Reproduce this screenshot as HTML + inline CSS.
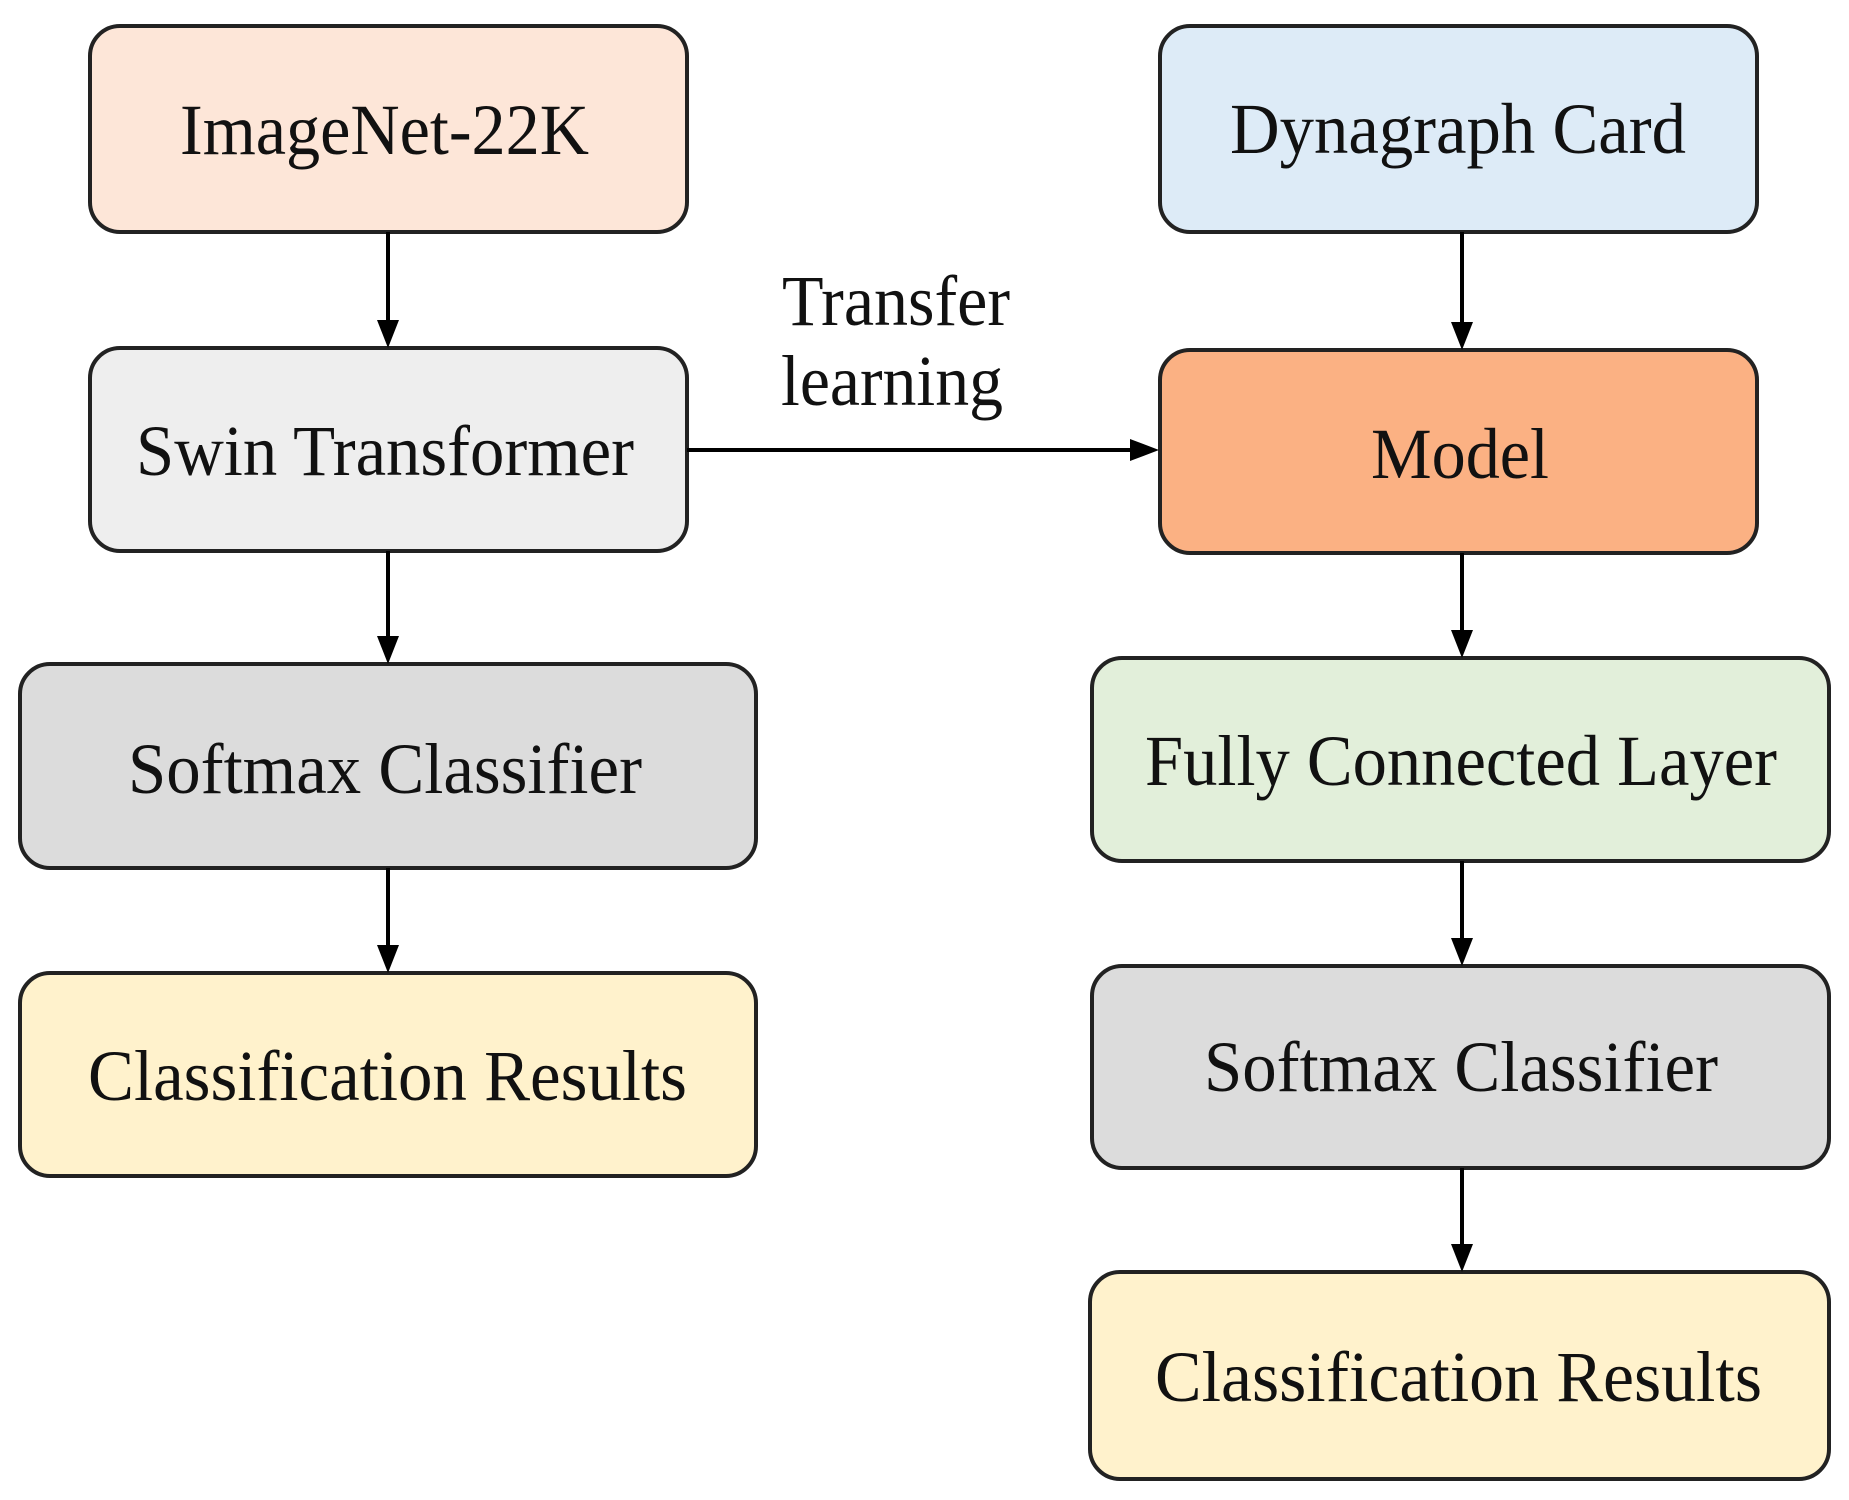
<!DOCTYPE html>
<html><head><meta charset="utf-8"><style>
html,body{margin:0;padding:0;background:#fff;}
svg{display:block;}
text{font-family:"Liberation Serif",serif;font-size:72px;fill:#111;}
</style></head><body>
<svg width="1849" height="1500" viewBox="0 0 1849 1500" xmlns="http://www.w3.org/2000/svg">
<g stroke="#222" stroke-width="4">
<rect x="90" y="26" width="597" height="206" rx="30" fill="#fde6d8"/>
<rect x="90" y="348" width="597" height="203" rx="30" fill="#eeeeee"/>
<rect x="20" y="664" width="736" height="204" rx="30" fill="#dcdcdc"/>
<rect x="20" y="973" width="736" height="203" rx="30" fill="#fff2cc"/>
<rect x="1160" y="26" width="597" height="206" rx="30" fill="#ddebf7"/>
<rect x="1160" y="350" width="597" height="203" rx="30" fill="#fbb183"/>
<rect x="1092" y="658" width="737" height="203" rx="30" fill="#e2efda"/>
<rect x="1092" y="966" width="737" height="202" rx="30" fill="#dcdcdc"/>
<rect x="1090" y="1272" width="739" height="207" rx="30" fill="#fff2cc"/>
</g>
<g stroke="#000" stroke-width="4">
<line x1="388" y1="232" x2="388" y2="325"/>
<line x1="388" y1="551" x2="388" y2="640"/>
<line x1="388" y1="868" x2="388" y2="950"/>
<line x1="1462" y1="232" x2="1462" y2="325"/>
<line x1="1462" y1="553" x2="1462" y2="634"/>
<line x1="1462" y1="861" x2="1462" y2="942"/>
<line x1="1462" y1="1168" x2="1462" y2="1248"/>
<line x1="687" y1="450" x2="1135" y2="450"/>
</g>
<g fill="#000">
<path d="M377,320 L399,320 L388,348 z"/>
<path d="M377,636 L399,636 L388,664 z"/>
<path d="M377,945 L399,945 L388,973 z"/>
<path d="M1451,322 L1473,322 L1462,350 z"/>
<path d="M1451,630 L1473,630 L1462,658 z"/>
<path d="M1451,938 L1473,938 L1462,966 z"/>
<path d="M1451,1244 L1473,1244 L1462,1272 z"/>
<path d="M1130,439 L1130,461 L1159,450 z"/>
</g>
<text x="180" y="154" textLength="409" lengthAdjust="spacingAndGlyphs">ImageNet-22K</text>
<text x="136" y="475" textLength="498" lengthAdjust="spacingAndGlyphs">Swin Transformer</text>
<text x="128" y="793" textLength="514" lengthAdjust="spacingAndGlyphs">Softmax Classifier</text>
<text x="88" y="1100" textLength="599" lengthAdjust="spacingAndGlyphs">Classification Results</text>
<text x="1230" y="153" textLength="456" lengthAdjust="spacingAndGlyphs">Dynagraph Card</text>
<text x="1371" y="478" textLength="178" lengthAdjust="spacingAndGlyphs">Model</text>
<text x="1145" y="785" textLength="632" lengthAdjust="spacingAndGlyphs">Fully Connected Layer</text>
<text x="1204" y="1091" textLength="514" lengthAdjust="spacingAndGlyphs">Softmax Classifier</text>
<text x="1155" y="1401" textLength="607" lengthAdjust="spacingAndGlyphs">Classification Results</text>
<text x="782" y="325" textLength="228" lengthAdjust="spacingAndGlyphs">Transfer</text>
<text x="781" y="405" textLength="222" lengthAdjust="spacingAndGlyphs">learning</text>
</svg>
</body></html>
